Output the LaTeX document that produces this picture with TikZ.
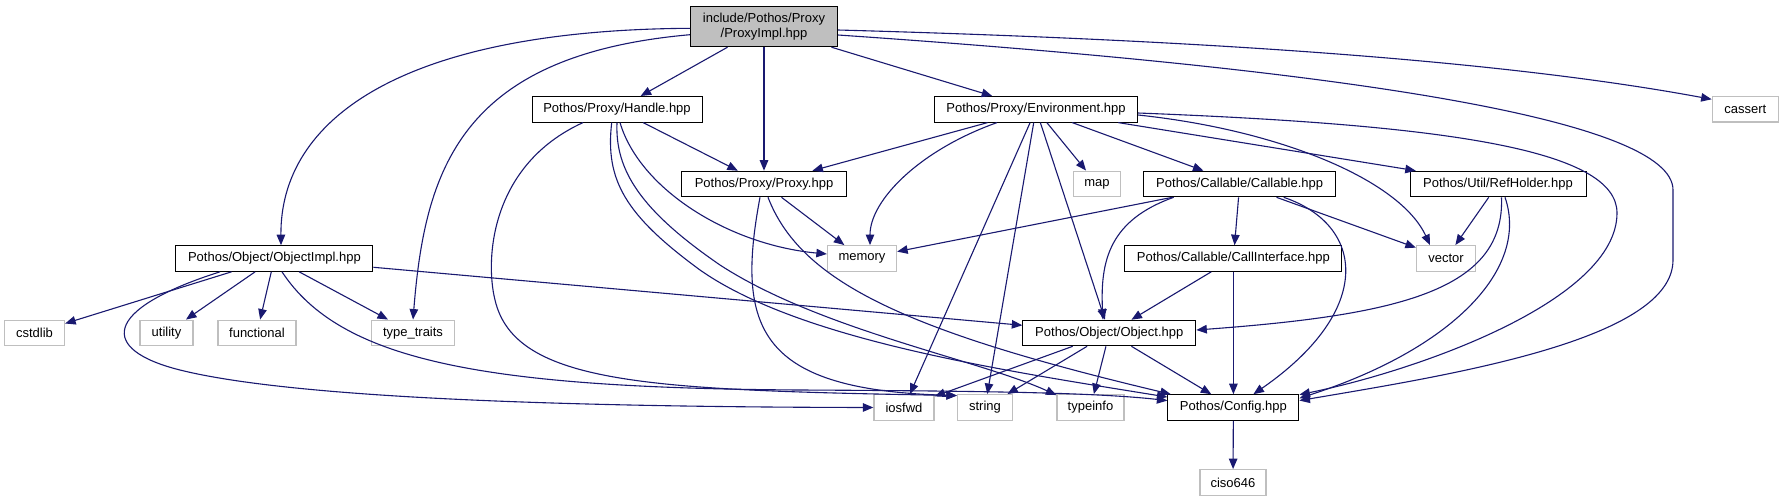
\documentclass[tikz,border=0pt]{standalone}
\usepackage{fontspec}
\setmainfont{Liberation Sans}
\usetikzlibrary{arrows.meta}
\definecolor{edgec}{RGB}{25,25,112}
\definecolor{greyb}{RGB}{191,191,191}
\begin{document}
\begin{tikzpicture}[x=1pt,y=-1pt,
  inb/.style={draw=black, line width=1pt, minimum height=25.6pt, inner sep=0pt, font=\fontsize{13}{15}\selectfont, fill=white},
  exb/.style={draw=greyb, line width=1.3pt, minimum height=25.6pt, inner sep=0pt, font=\fontsize{13}{15}\selectfont, fill=white},
  dep/.style={draw=edgec, line width=1.1pt, -{Triangle[length=10.5pt,width=8.5pt]}}]
\useasboundingbox[fill=white] (0,0) rectangle (1783,501);
% nodes
\node[inb, fill=greyb, minimum width=147pt, minimum height=40pt, align=center] (main) at (764,26.7) {include/Pothos/Proxy\\/ProxyImpl.hpp};
\node[inb, minimum width=170pt] (handle) at (617,109.3) {Pothos/Proxy/Handle.hpp};
\node[inb, minimum width=165pt] (proxy) at (764,184) {Pothos/Proxy/Proxy.hpp};
\node[inb, minimum width=203pt] (env) at (1036,109.3) {Pothos/Proxy/Environment.hpp};
\node[exb, minimum width=66pt] (cassert) at (1745.3,109.3) {cassert};
\node[exb, minimum width=47pt] (map) at (1097,184) {map};
\node[inb, minimum width=192pt] (callable) at (1239.7,184) {Pothos/Callable/Callable.hpp};
\node[inb, minimum width=176pt] (refholder) at (1498,184) {Pothos/Util/RefHolder.hpp};
\node[inb, minimum width=197pt] (objimpl) at (274.4,258.5) {Pothos/Object/ObjectImpl.hpp};
\node[exb, minimum width=69pt] (memory) at (862,258.5) {memory};
\node[inb, minimum width=217pt] (callint) at (1233.4,258.5) {Pothos/Callable/CallInterface.hpp};
\node[exb, minimum width=59pt] (vector) at (1446,258.5) {vector};
\node[exb, minimum width=60pt] (cstdlib) at (34.5,333) {cstdlib};
\node[exb, minimum width=53pt] (utility) at (166.5,333) {utility};
\node[exb, minimum width=78pt] (functional) at (257,333) {functional};
\node[exb, minimum width=82.6pt] (typetraits) at (413,333) {type\_traits};
\node[inb, minimum width=173pt] (object) at (1109.3,333) {Pothos/Object/Object.hpp};
\node[exb, minimum width=60pt] (iosfwd) at (904,407.5) {iosfwd};
\node[exb, minimum width=55pt] (string) at (985,407.5) {string};
\node[exb, minimum width=67pt] (typeinfo) at (1090.5,407.5) {typeinfo};
\node[inb, minimum width=131pt] (config) at (1233.4,407.5) {Pothos/Config.hpp};
\node[exb, minimum width=66pt] (ciso) at (1233,482.5) {ciso646};
% edges from main
\draw[dep] (main) -- (handle);
\draw[dep] (main) -- (proxy);
\draw[dep] (main) -- (env);
\draw[dep] ([yshift=-3.3pt]main.east) .. controls (1200,40) and (1500,60) .. ([yshift=10pt]cassert.west);
\draw[dep] ([yshift=-8.3pt]main.east) .. controls (1350,70) and (1673,120) .. (1673,190) -- (1673,260) .. controls (1673,340) and (1450,375) .. (config.6);
\draw[dep] ([yshift=-1.6pt]main.west) .. controls (400,30) and (280,120) .. ([xshift=6.6pt]objimpl.north);
\draw[dep] ([yshift=-8pt]main.west) .. controls (460,55) and (425,170) .. (typetraits.north);
% Handle
\draw[dep] (handle) -- (proxy);
\draw[dep] ([xshift=3pt]handle.south) .. controls (640,190) and (730,245) .. ([yshift=4.5pt]memory.west);
\draw[dep] ([xshift=-34pt]handle.south) .. controls (490,165) and (485,260) .. (495,300) .. controls (515,385) and (650,390) .. (string.157);
\draw[dep] (handle.south) .. controls (615,170) and (640,210) .. (720,265) .. controls (820,330) and (980,360) .. (typeinfo.160);
\draw[dep] ([xshift=-5.3pt]handle.south) .. controls (605,180) and (625,215) .. (700,270) .. controls (800,340) and (1000,370) .. (config.171);
% Proxy
\draw[dep] (proxy) -- (memory);
\draw[dep] ([xshift=-4pt]proxy.south) .. controls (735,330) and (760,390) .. (string.157);
\draw[dep] ([xshift=4pt]proxy.south) .. controls (800,280) and (900,330) .. (config.168);
% Environment
\draw[dep] (env) -- (proxy);
\draw[dep] ([xshift=-39pt]env.south) .. controls (920,150) and (870,200) .. ([xshift=8pt]memory.north);
\draw[dep] (env) -- (iosfwd);
\draw[dep] (env) -- (string);
\draw[dep] (env) -- (map);
\draw[dep] (env) -- (object);
\draw[dep] (env) -- (callable);
\draw[dep] (env) -- (refholder);
\draw[dep] ([yshift=-5.7pt]env.east) .. controls (1280,130) and (1400,180) .. ([xshift=-16pt]vector.north);
\draw[dep] ([yshift=-3.7pt]env.east) .. controls (1450,125) and (1617,150) .. (1617,213) .. controls (1617,300) and (1420,370) .. (config.11);
% Callable
\draw[dep] (callable) -- (memory);
\draw[dep] ([xshift=-66pt]callable.south) .. controls (1110,220) and (1100,260) .. ([xshift=-6.3pt]object.north);
\draw[dep] (callable) -- (callint);
\draw[dep] (callable) -- (vector);
\draw[dep] ([xshift=44pt]callable.south) .. controls (1365,225) and (1375,310) .. ([xshift=20pt]config.north);
% CallInterface
\draw[dep] (callint) -- (object);
\draw[dep] (callint) -- (config);
% RefHolder
\draw[dep] (refholder) -- (vector);
\draw[dep] ([xshift=3.5pt]refholder.south) .. controls (1505,290) and (1400,315) .. ([yshift=3pt]object.east);
\draw[dep] ([xshift=7pt]refholder.south) .. controls (1530,270) and (1450,350) .. (config.8);
% ObjectImpl
\draw[dep] (objimpl) -- (cstdlib);
\draw[dep] (objimpl) -- (utility);
\draw[dep] (objimpl) -- (functional);
\draw[dep] (objimpl) -- (typetraits);
\draw[dep] (objimpl) -- (object);
\draw[dep] ([xshift=7.6pt]objimpl.south) .. controls (340,360) and (480,388) .. (800,390) .. controls (1000,391) and (1100,393) .. (config.174);
\draw[dep] ([xshift=-54.4pt]objimpl.south) .. controls (100,310) and (100,350) .. (180,370) .. controls (300,400) and (600,407) .. (iosfwd.west);
% Object
\draw[dep] (object) -- (iosfwd);
\draw[dep] (object) -- (string);
\draw[dep] (object) -- (typeinfo);
\draw[dep] (object) -- (config);
% Config
\draw[dep] (config) -- (ciso);
\end{tikzpicture}
\end{document}
